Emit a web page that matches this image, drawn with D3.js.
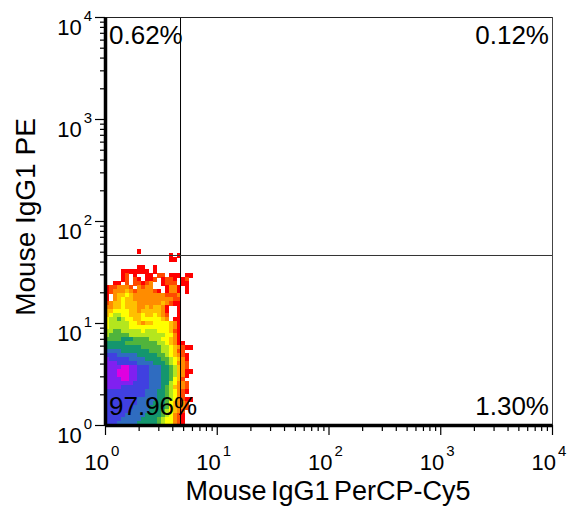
<!DOCTYPE html>
<html>
<head>
<meta charset="utf-8">
<script src="https://d3js.org/d3.v7.min.js"></script>
<style>
  html, body { margin: 0; padding: 0; background: #fff; }
  text { font-family: "Liberation Sans", Arial, sans-serif; fill: #000; }
</style>
</head>
<body>
<div id="chart"></div>
<script>
let width = 568;
let height = 506;

// density, top row first. "." = empty, 1 (low) ... c (high)
let densityRows = [
  "",
  "........1",
  "................1.1",
  "................11",
  "",
  "........11..1",
  "....1111111.1",
  "....12.1..11.22.111.11",
  "....12.21.112.1221.12",
  "..11.2.22123..1222.11",
  "1223332.3233...1331.1",
  "12333432333321.1331.1",
  "1.34454333333332223",
  "1.34544333333333322",
  "2344544433333343211",
  "3344544433434431..1",
  "4455554434444431..1",
  "4566554445445432..1",
  "5667655445555543.11",
  "5666665543445555431",
  "5666665555555555431",
  "6677666665666555421",
  "6777776666666665531",
  "7777888777766655431",
  "8888877777777665431" + "1",
  "8888888887777766543" + "211",
  "9999888888877766542" + "2",
  "aaa9999988888776543" + "21",
  "baaaaa9999888877654" + "31",
  "bbbaaaaa99998887653" + "32",
  "bbbbccbbaaa99988764" + "32",
  "bbbcccbbaaa99988764" + "311",
  "bbbcccbbaaa99988764" + "31",
  "bbbbccbbaaa99988754" + "2",
  "bbbbbbbaaaa99988653" + "32",
  "bbbbaaaaaaa99987643" + "32",
  "aaaaaaaaaa999887653" + "21",
  "aaaaaaaaaa999887653" + "2",
  "aaaaaaaa99999887653" + "211",
  "aaaaaaaa99998887543" + "32",
  "aaaaaaa999988887543" + "32",
  "aaaaaa9999988876543" + "2",
  "aaaaa99999888876532" + "1",
  "aaaa999998888765532" + "1",
  "aaa9999988888765532" + "1"
];
let levels = ["1", "2", "3", "4", "5", "6", "7", "8", "9", "a", "b", "c"];
let levelColors = ["#ff0000", "#ff4a00", "#ff8c00", "#ffc000", "#ffff00", "#b4e61e",
  "#50b43c", "#14966e", "#2f6cc0", "#4040e0", "#8020f0", "#e000e0"];

let majorTicks = [1, 10, 100, 1000, 10000];
let minorMultipliers = [2, 3, 4, 5, 6, 7, 8, 9];
let gateX = 4.74;
let gateY = 45.9;
let quadrantLabels = [
  { text: "0.62%", side: "left", row: "top" },
  { text: "0.12%", side: "right", row: "top" },
  { text: "97.96%", side: "left", row: "bottom" },
  { text: "1.30%", side: "right", row: "bottom" }
];
let xTitle = "Mouse IgG1 PerCP-Cy5";
let yTitle = "Mouse IgG1 PE";

let binsPerDecadeX = 28;
let binsPerDecadeY = 25.5;

let xscale = d3.scaleLog().domain([1, 10000]).range([105, 552]);
let yscale = d3.scaleLog().domain([1, 10000]).range([425, 17]);
let colorscale = d3.scaleOrdinal().domain(levels).range(levelColors);

let allTicks = majorTicks.slice(0, -1)
  .flatMap(d => [d, ...minorMultipliers.map(m => d * m)])
  .concat([10000]);

let svg = d3.select("#chart")
  .append("svg")
  .attr("width", width)
  .attr("height", height)
  .style("display", "block");

// one entry per filled bin
let cells = densityRows.flatMap((row, r) => {
  let binFromBottom = densityRows.length - 1 - r;
  return row.split("").map((level, c) => ({ level, c, binFromBottom }))
    .filter(d => d.level != ".");
});

svg.append("g")
  .attr("id", "density")
  .attr("shape-rendering", "crispEdges")
  .selectAll("rect")
  .data(cells)
  .enter()
  .append("rect")
  .attr("x", d => xscale(10 ** (d.c / binsPerDecadeX)))
  .attr("y", d => yscale(10 ** ((d.binFromBottom + 1) / binsPerDecadeY)))
  .attr("width", d => xscale(10 ** ((d.c + 1) / binsPerDecadeX)) - xscale(10 ** (d.c / binsPerDecadeX)) + 0.5)
  .attr("height", d => yscale(10 ** (d.binFromBottom / binsPerDecadeY)) - yscale(10 ** ((d.binFromBottom + 1) / binsPerDecadeY)) + 0.5)
  .attr("fill", d => colorscale(d.level));

// quadrant lines
svg.append("line")
  .attr("x1", xscale(gateX)).attr("x2", xscale(gateX))
  .attr("y1", yscale(10000)).attr("y2", yscale(1))
  .attr("stroke", "#000").attr("stroke-width", 1);
svg.append("line")
  .attr("x1", xscale(1)).attr("x2", xscale(10000))
  .attr("y1", yscale(gateY)).attr("y2", yscale(gateY))
  .attr("stroke", "#333").attr("stroke-width", 1);

// frame
svg.append("line")
  .attr("x1", xscale(1)).attr("x2", xscale(10000))
  .attr("y1", yscale(10000) + 0.5).attr("y2", yscale(10000) + 0.5)
  .attr("stroke", "#222").attr("stroke-width", 1);
svg.append("line")
  .attr("x1", xscale(10000) + 0.5).attr("x2", xscale(10000) + 0.5)
  .attr("y1", yscale(10000)).attr("y2", yscale(1))
  .attr("stroke", "#444").attr("stroke-width", 1);

function styleAxis(g, tickAttr) {
  g.select(".domain").attr("stroke", "#000").attr("stroke-width", 3.5);
  g.selectAll(".tick line")
    .attr("stroke", "#000")
    .attr("stroke-width", 1.2)
    .attr(tickAttr.name, d => majorTicks.includes(d) ? tickAttr.major : tickAttr.minor);
  g.selectAll(".tick text").remove();
}

let xAxis = svg.append("g")
  .attr("id", "x-axis")
  .attr("transform", `translate(0, ${yscale(1)})`)
  .call(d3.axisBottom(xscale).tickValues(allTicks).tickSizeOuter(0));
styleAxis(xAxis, { name: "y2", major: 10, minor: 6 });

let yAxis = svg.append("g")
  .attr("id", "y-axis")
  .attr("transform", `translate(${xscale(1)}, 0)`)
  .call(d3.axisLeft(yscale).tickValues(allTicks).tickSizeOuter(0));
styleAxis(yAxis, { name: "x2", major: -10, minor: -5 });

// decade labels with raised exponent
function powerLabel(g, x, y, anchor, d) {
  let t = g.append("text")
    .attr("x", x)
    .attr("y", y)
    .attr("text-anchor", anchor)
    .attr("font-size", 22)
    .text("10");
  t.append("tspan")
    .attr("dx", 2)
    .attr("dy", -14)
    .attr("font-size", 15)
    .text(Math.round(Math.log10(d)));
}

let labels = svg.append("g").attr("id", "tick-labels");
majorTicks.forEach(d => {
  powerLabel(labels, xscale(d) - 3, 470, "middle", d);
  powerLabel(labels, 92, yscale(d) + 18, "end", d);
});

// percentages
svg.append("g")
  .attr("id", "quadrant-labels")
  .selectAll("text")
  .data(quadrantLabels)
  .enter()
  .append("text")
  .attr("x", d => d.side == "left" ? 109 : 549)
  .attr("y", d => d.row == "top" ? 44 : 415)
  .attr("text-anchor", d => d.side == "left" ? "start" : "end")
  .attr("font-size", 26)
  .text(d => d.text);

svg.append("text")
  .attr("x", 328)
  .attr("y", 500)
  .attr("text-anchor", "middle")
  .attr("font-size", 27)
  .attr("word-spacing", -3)
  .text(xTitle);

svg.append("text")
  .attr("transform", "translate(35, 217) rotate(-90)")
  .attr("text-anchor", "middle")
  .attr("font-size", 28)
  .text(yTitle);
</script>
</body>
</html>
